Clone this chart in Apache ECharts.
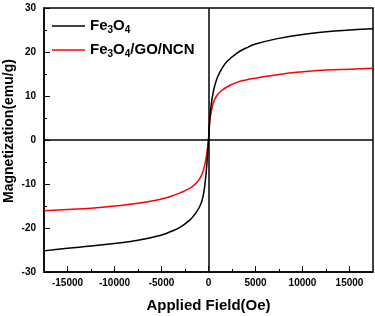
<!DOCTYPE html>
<html>
<head>
<meta charset="utf-8">
<script src="https://cdn.jsdelivr.net/npm/echarts@6/dist/echarts.min.js"></script>
<style>
  html, body { margin: 0; padding: 0; background: #fff; }
  #main { width: 375px; height: 316px; }
</style>
</head>
<body>
<div id="main"></div>
<script>
// applied field (Oe)
var field = [-17500, -15000, -12500, -10000, -7500, -5000, -4000, -3000, -2000, -1500, -1000, -700, -500, -300, -150, 0,
  150, 300, 500, 700, 1000, 1500, 2000, 3000, 4000, 5000, 7500, 10000, 12500, 15000, 17500]
// magnetization (emu/g)
var fe3o4 = [-25.2, -24.6, -24.1, -23.5, -22.8, -21.6, -20.8, -19.8, -18.2, -17.0, -15.4, -13.8, -11.9, -8.5, -4.8, 0,
  5.0, 8.2, 10.8, 12.6, 14.5, 16.5, 17.9, 19.7, 20.9, 21.8, 23.1, 24.0, 24.6, 25.0, 25.3]
var fe3o4GoNcn = [-16.1, -15.8, -15.5, -15.0, -14.4, -13.4, -12.8, -12.0, -11.0, -10.2, -9.0, -7.8, -6.5, -4.6, -2.6, 0,
  4.6, 6.5, 8.3, 9.4, 10.4, 11.4, 12.1, 13.1, 13.65, 14.05, 14.9, 15.5, 15.9, 16.1, 16.3]
var seriesNames = ['Fe3O4', 'Fe3O4/GO/NCN']
var xTicks = [-15000, -10000, -5000, 0, 5000, 10000, 15000]
var xMinorTicks = [-12500, -7500, -2500, 2500, 7500, 12500]

function pairs(ys) {
  return field.map(function (x, i) { return [x, ys[i]] })
}

var myChart = echarts.init(document.getElementById('main'))
var font = 'Liberation Sans, Arial, sans-serif'

var option = {
  animation: false,
  textStyle: { fontFamily: font },
  grid: {
    left: 44,
    right: 2,
    top: 8,
    bottom: 44,
    outerBoundsMode: 'none',
    containLabel: false,
    show: true,
    borderColor: '#000',
    borderWidth: 1.5
  },
  legend: {
    orient: 'vertical',
    left: 47,
    top: 12,
    itemWidth: 33,
    itemHeight: 14,
    itemGap: 6,
    icon: 'path://M0,6 L33,6 L33,7.5 L0,7.5 Z',
    data: seriesNames,
    formatter: function (name) {
      return name.replace(/(\d)/g, '{s|$1}')
    },
    textStyle: {
      fontFamily: font,
      fontSize: 15,
      fontWeight: 'bold',
      color: '#000',
      lineHeight: 18,
      rich: {
        s: {
          fontFamily: font,
          fontSize: 10,
          fontWeight: 'bold',
          color: '#000',
          verticalAlign: 'bottom',
          lineHeight: 18,
          padding: [6, 0, 0, 0]
        }
      }
    }
  },
  xAxis: [
    {
      type: 'value',
      min: -17500,
      max: 17500,
      position: 'bottom',
      name: 'Applied Field(Oe)',
      nameLocation: 'middle',
      nameGap: 26,
      nameMoveOverlap: false,
      nameTextStyle: { fontFamily: font, fontSize: 15, fontWeight: 'bold', color: '#000' },
      axisLine: { onZero: false, lineStyle: { color: '#000', width: 1.5 } },
      axisTick: { inside: true, length: 6, customValues: xTicks, lineStyle: { color: '#000', width: 1 } },
      axisLabel: {
        customValues: xTicks,
        formatter: function (v) { return String(v) },
        fontFamily: font, fontSize: 10, fontWeight: 'bold', color: '#000', margin: 6
      },
      splitLine: { show: false }
    },
    {
      type: 'value',
      min: -17500,
      max: 17500,
      position: 'bottom',
      axisLine: { show: false, onZero: false },
      axisTick: { inside: true, length: 3, customValues: xMinorTicks, lineStyle: { color: '#000', width: 1 } },
      axisLabel: { show: false },
      splitLine: { show: false }
    }
  ],
  yAxis: {
    type: 'value',
    min: -30,
    max: 30,
    interval: 10,
    name: 'Magnetization(emu/g)',
    nameLocation: 'middle',
    nameGap: 28,
    nameMoveOverlap: false,
    nameTextStyle: { fontFamily: font, fontSize: 14, fontWeight: 'bold', color: '#000', padding: [0, 0, 0, 18] },
    axisLine: { onZero: false, lineStyle: { color: '#000', width: 1.5 } },
    axisTick: { inside: true, length: 6, lineStyle: { color: '#000', width: 1 } },
    minorTick: { show: true, splitNumber: 2, length: 3, lineStyle: { color: '#000', width: 1 } },
    axisLabel: { fontFamily: font, fontSize: 10, fontWeight: 'bold', color: '#000', margin: 8 },
    splitLine: { show: false }
  },
  series: [
    {
      name: seriesNames[0],
      type: 'line',
      data: pairs(fe3o4),
      showSymbol: false,
      symbol: 'none',
      smooth: 0.5,
      lineStyle: { color: '#000', width: 1.5 },
      itemStyle: { color: '#000' },
      z: 3,
      markLine: {
        silent: true,
        symbol: 'none',
        label: { show: false },
        lineStyle: { color: '#000', width: 1.5, type: 'solid' },
        data: [{ xAxis: 0 }, { yAxis: 0 }]
      }
    },
    {
      name: seriesNames[1],
      type: 'line',
      data: pairs(fe3o4GoNcn),
      showSymbol: false,
      symbol: 'none',
      smooth: 0.5,
      lineStyle: { color: '#ff0000', width: 1.5 },
      itemStyle: { color: '#ff0000' },
      z: 2
    }
  ]
}

myChart.setOption(option)
</script>
</body>
</html>
